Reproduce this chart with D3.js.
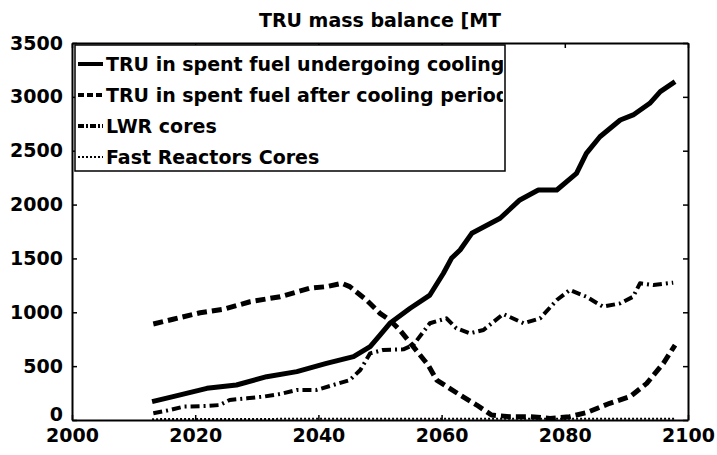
<!DOCTYPE html>
<html>
<head>
<meta charset="utf-8">
<script src="https://cdn.jsdelivr.net/npm/d3@7"></script>
<style>
  body { margin: 0; background: #fff; }
  svg { display: block; }
</style>
</head>
<body>
<div id="chart"></div>
<script>
// data (year, MT)
const coolingYears = [2013, 2016.4, 2021.9, 2026.7, 2031.6, 2036.5, 2041.3, 2045.7, 2048.4, 2050, 2051.6, 2054.9, 2058.1, 2060.3, 2061.6, 2063, 2064.9, 2069.5, 2072.7, 2075.7, 2078.7, 2081.9, 2083.5, 2085.7, 2089, 2091.1, 2093.8, 2095.5, 2097.9];
const coolingVals  = [170, 217, 294, 325, 402, 449, 526, 588, 681, 789, 898, 1037, 1160, 1362, 1501, 1578, 1733, 1873, 2043, 2135, 2135, 2290, 2476, 2630, 2785, 2832, 2940, 3048, 3141];

const afterYears = [2013.2, 2016.4, 2020.8, 2024.6, 2028.9, 2033.8, 2038.6, 2041.3, 2043.8, 2045.1, 2047.8, 2050, 2051.6, 2053.2, 2055.4, 2057.8, 2059.2, 2063, 2065.7, 2068.1, 2071.1, 2074.4, 2077.6, 2080.8, 2083.5, 2087.3, 2090.6, 2093.3, 2096, 2097.9];
const afterVals  = [891, 935, 996, 1028, 1098, 1145, 1223, 1238, 1269, 1238, 1114, 990, 928, 836, 681, 511, 371, 232, 139, 46, 31, 31, 15, 31, 68, 155, 217, 340, 526, 696];

const lwrYears = [2013.2, 2015.9, 2018.1, 2021.9, 2024, 2025.6, 2028.4, 2031.1, 2033.8, 2036.5, 2039.7, 2042.4, 2045.1, 2046.8, 2048.4, 2050.5, 2053.8, 2055.4, 2058.1, 2060.8, 2062.4, 2064.6, 2066.8, 2070, 2073.3, 2076, 2078.7, 2080.8, 2083.5, 2086.2, 2089, 2091.1, 2092.2, 2094.4, 2097.6];
const lwrVals  = [62, 93, 124, 130, 139, 186, 201, 217, 241, 279, 279, 325, 371, 464, 619, 650, 656, 696, 898, 944, 851, 805, 836, 984, 898, 944, 1114, 1207, 1145, 1052, 1083, 1145, 1269, 1253, 1275];

const fastYears = [2013, 2030, 2045, 2060, 2075, 2090, 2098];
const fastVals  = [8, 10, 12, 12, 12, 12, 12];

const seriesNames = [
  "TRU in spent fuel undergoing cooling",
  "TRU in spent fuel after cooling period",
  "LWR cores",
  "Fast Reactors Cores"
];
const xTicks = [2000, 2020, 2040, 2060, 2080, 2100];
const yTicks = [0, 500, 1000, 1500, 2000, 2500, 3000, 3500];
const titleText = "TRU mass balance [MT";

const W = 717, H = 455;
const m = {left: 72, right: 29, top: 43, bottom: 35};
const font = "'DejaVu Sans', sans-serif";

const svg = d3.select("#chart").append("svg")
  .attr("width", W).attr("height", H)
  .style("font-family", font).style("font-weight", "bold");

const x = d3.scaleLinear().domain([2000, 2100]).range([m.left, W - m.right]);
const y = d3.scaleLinear().domain([0, 3500]).range([H - m.bottom, m.top]);

const zip = (xs, ys) => xs.map((d, i) => [d, ys[i]]);
const styles = [
  {data: zip(coolingYears, coolingVals), w: 5, dash: null},
  {data: zip(afterYears, afterVals), w: 5, dash: "10,5"},
  {data: zip(lwrYears, lwrVals), w: 4, dash: "9,4,2,4"},
  {data: zip(fastYears, fastVals), w: 2, dash: "2,2"}
];

const line = d3.line().x(d => x(d[0])).y(d => y(d[1]));

svg.append("g").selectAll("path")
  .data(styles)
  .join("path")
  .attr("d", d => line(d.data))
  .attr("fill", "none")
  .attr("stroke", "#000")
  .attr("stroke-width", d => d.w)
  .attr("stroke-dasharray", d => d.dash)
  .attr("stroke-linejoin", "round");

// axes (MATLAB style box, ticks inward)
const tl = 5;
const xAxis = svg.append("g").attr("transform", `translate(0,${H - m.bottom})`)
  .call(d3.axisBottom(x).tickValues(xTicks).tickFormat(d3.format("d")).tickSizeInner(-tl).tickSizeOuter(0).tickPadding(14));
const yAxis = svg.append("g").attr("transform", `translate(${m.left},0)`)
  .call(d3.axisLeft(y).tickValues(yTicks).tickFormat(d3.format("d")).tickSizeInner(-tl).tickSizeOuter(0).tickPadding(9));
svg.append("g").attr("transform", `translate(0,${m.top})`)
  .call(d3.axisTop(x).tickValues(xTicks).tickFormat("").tickSizeInner(-tl).tickSizeOuter(0));
svg.append("g").attr("transform", `translate(${W - m.right},0)`)
  .call(d3.axisRight(y).tickValues(yTicks).tickFormat("").tickSizeInner(-tl).tickSizeOuter(0));

svg.selectAll(".domain").attr("stroke", "#000").attr("stroke-width", 2);
svg.selectAll(".tick line").attr("stroke", "#000").attr("stroke-width", 1.5);
svg.selectAll(".tick text")
  .attr("fill", "#000")
  .style("font-family", font).style("font-weight", "bold").style("font-size", "19px");
xAxis.selectAll(".tick text").attr("dy", "0.4em");
yAxis.selectAll(".tick text").filter(d => d === 0).attr("dy", "0.05em");

// title
svg.append("text")
  .attr("x", (m.left + W - m.right) / 2).attr("y", 27)
  .attr("text-anchor", "middle")
  .style("font-size", "19px")
  .text(titleText);

// legend
const lg = {x: 75, y: 45, w: 430, h: 126};
svg.append("clipPath").attr("id", "lgclip")
  .append("rect").attr("x", lg.x).attr("y", lg.y).attr("width", lg.w - 2).attr("height", lg.h);
const legend = svg.append("g");
legend.append("rect")
  .attr("x", lg.x).attr("y", lg.y).attr("width", lg.w).attr("height", lg.h)
  .attr("fill", "#fff").attr("stroke", "#000").attr("stroke-width", 1.5);
const rowY = [64, 95, 126, 157];
const textX = 106;
const rows = legend.selectAll("g.row")
  .data(seriesNames)
  .join("g").attr("class", "row")
  .attr("clip-path", "url(#lgclip)");
rows.append("line")
  .attr("x1", 78).attr("x2", textX - 3)
  .attr("y1", (d, i) => rowY[i]).attr("y2", (d, i) => rowY[i])
  .attr("stroke", "#000")
  .attr("stroke-width", (d, i) => Math.min(styles[i].w, 4))
  .attr("stroke-dasharray", (d, i) => i === 2 ? "6,2,2,2" : i === 1 ? "6,3" : styles[i].dash);
rows.append("text")
  .attr("x", textX).attr("y", (d, i) => rowY[i])
  .attr("dy", "0.35em")
  .style("font-size", "19px")
  .text(d => d);
</script>
</body>
</html>
